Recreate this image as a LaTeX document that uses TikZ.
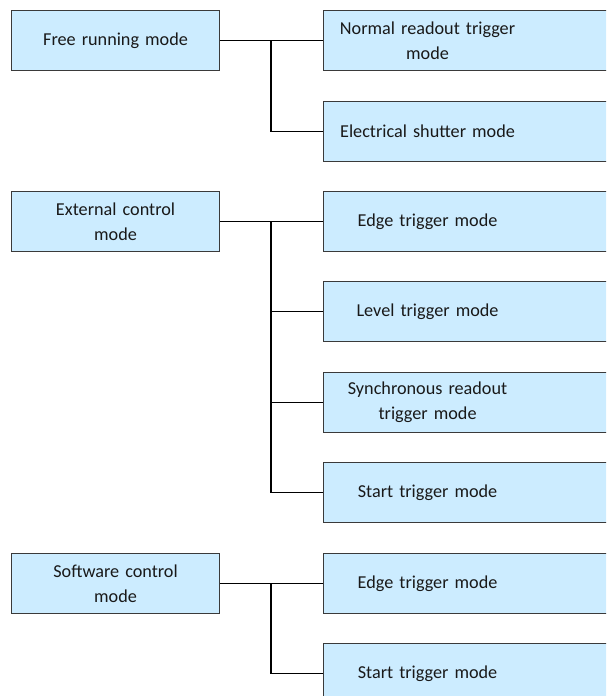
\documentclass[tikz,border=0pt]{standalone}
\usepackage{fontspec}
\setmainfont{Carlito}
\definecolor{boxfill}{HTML}{CCECFF}
\definecolor{boxline}{HTML}{3A3A3A}
% text of a sub-mode, centred over the first 208pt of its box
\newcommand{\subtext}[1]{\parbox{208pt}{\centering #1}}
\tikzset{
  modebox/.style={draw=boxline, line width=1.1pt, fill=boxfill, rectangle,
    minimum height=60pt, font=\fontsize{18.2}{25}\selectfont,
    inner sep=0pt, anchor=north west, text=black!90},
  leftbox/.style={modebox, minimum width=208pt, text width=204pt, align=center},
  rightbox/.style={modebox, minimum width=290pt, text width=290pt, align=left},
  link/.style={line width=1.6pt, black}
}
\begin{document}
\begin{tikzpicture}[x=1pt,y=-1pt]
\useasboundingbox (0,0) rectangle (606,696);
\begin{scope}
\clip (0,0) rectangle (606,696);
% top-level modes
\node[leftbox] (free) at (11,10) {Free running mode};
\node[leftbox] (ext) at (11,191) {External control\\mode};
\node[leftbox] (soft) at (11,553) {Software control\\mode};
% sub-modes
\node[rightbox] (normal) at (323,10) {\subtext{Normal readout trigger\\mode}};
\node[rightbox] (shutter) at (323,101) {\subtext{Electrical shutter mode}};
\node[rightbox] (edge1) at (323,191) {\subtext{Edge trigger mode}};
\node[rightbox] (level) at (323,281) {\subtext{Level trigger mode}};
\node[rightbox] (sync) at (323,372) {\subtext{Synchronous readout\\trigger mode}};
\node[rightbox] (start1) at (323,462) {\subtext{Start trigger mode}};
\node[rightbox] (edge2) at (323,553) {\subtext{Edge trigger mode}};
\node[rightbox] (start2) at (323,643) {\subtext{Start trigger mode}};
\end{scope}
% bus junctions
\coordinate (b1) at (271,40);
\coordinate (b2) at (271,221);
\coordinate (b3) at (271,583);
% connectors
\draw[link] (free.east) -- (normal.west);
\draw[link] (b1) |- (shutter.west);
\draw[link] (ext.east) -- (edge1.west);
\draw[link] (b2) |- (start1.west);
\draw[link] (b2 |- level.west) -- (level.west);
\draw[link] (b2 |- sync.west) -- (sync.west);
\draw[link] (soft.east) -- (edge2.west);
\draw[link] (b3) |- (start2.west);
\end{tikzpicture}
\end{document}
